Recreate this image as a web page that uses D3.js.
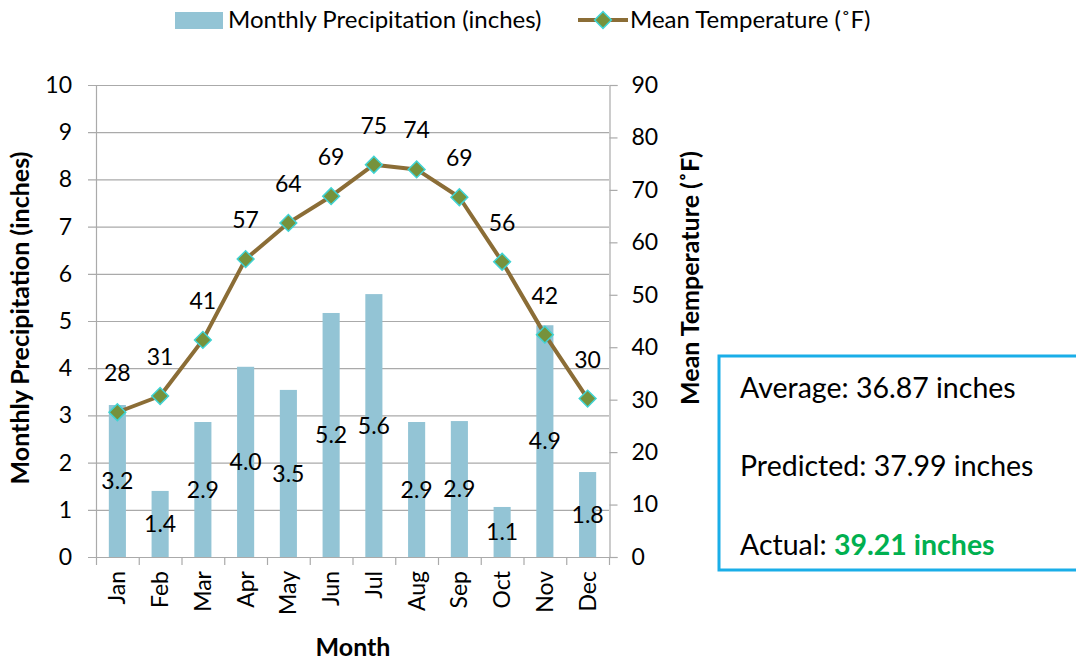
<!DOCTYPE html>
<html>
<head>
<meta charset="utf-8">
<script src="https://cdn.jsdelivr.net/npm/d3@7"></script>
<style>
  body { margin: 0; background: #fff; }
  text { font-family: Lato, "Noto Sans", sans-serif; fill: #000; }
</style>
</head>
<body>
<div id="chart"></div>
<script>
// data
var months = ["Jan", "Feb", "Mar", "Apr", "May", "Jun", "Jul", "Aug", "Sep", "Oct", "Nov", "Dec"];
var precip = [3.22, 1.4, 2.86, 4.03, 3.54, 5.17, 5.57, 2.86, 2.88, 1.06, 4.91, 1.8];
var temp = [27.6, 30.7, 41.4, 56.8, 63.7, 68.8, 74.8, 73.9, 68.6, 56.3, 42.4, 30.2];
var leftTicks = [0, 1, 2, 3, 4, 5, 6, 7, 8, 9, 10];
var rightTicks = [0, 10, 20, 30, 40, 50, 60, 70, 80, 90];
var notes = [
    { label: "Average: ", value: "36.87 inches", strong: false },
    { label: "Predicted: ", value: "37.99 inches", strong: false },
    { label: "Actual: ", value: "39.21 inches", strong: true }
];

var W = 1076, H = 663;
var margin = { top: 85, right: 467, bottom: 106, left: 96 };
var width = W - margin.left - margin.right,
    height = H - margin.top - margin.bottom;

var barColor = "#93c4d5",
    lineColor = "#8b6d36",
    gridColor = "#aaaaaa";
var fs = "23px", titleFs = "25px";

var svg = d3.select("#chart").append("svg")
    .attr("width", W)
    .attr("height", H);

var g = svg.append("g")
    .attr("transform", "translate(" + margin.left + "," + margin.top + ")");

var x = d3.scaleBand().domain(months).range([0, width]).paddingInner(0.6).paddingOuter(0.3);
var xOuter = d3.scaleBand().domain(months).range([0, width]);
var yL = d3.scaleLinear().domain([0, 10]).range([height, 0]);
var yR = d3.scaleLinear().domain([0, 90]).range([height, 0]);

// gridlines (left scale)
g.selectAll(".grid")
    .data(leftTicks)
    .enter().append("line")
    .attr("x1", -8)
    .attr("x2", width)
    .attr("y1", function (d) { return yL(d) + 0.5; })
    .attr("y2", function (d) { return yL(d) + 0.5; })
    .attr("stroke", gridColor)
    .attr("stroke-width", 1.2);

// left axis line
g.append("line")
    .attr("x1", 0.5).attr("x2", 0.5)
    .attr("y1", 0).attr("y2", height)
    .attr("stroke", gridColor).attr("stroke-width", 1.2);

// right axis
var rightAxis = d3.axisRight(yR).tickValues(rightTicks).tickSize(8).tickPadding(14);
g.append("g")
    .attr("transform", "translate(" + (width + 0.5) + ",0)")
    .call(rightAxis)
    .call(function (a) {
        a.select(".domain").attr("stroke", gridColor).attr("stroke-width", 1.2);
        a.selectAll(".tick line").attr("stroke", gridColor).attr("stroke-width", 1.2);
        a.selectAll("text").style("font-size", fs).attr("fill", "#000")
            .style("font-family", "Lato, 'Noto Sans', sans-serif");
    });

// left tick labels
g.selectAll(".ltick")
    .data(leftTicks)
    .enter().append("text")
    .attr("x", -24)
    .attr("y", function (d) { return yL(d); })
    .attr("dy", "0.35em")
    .attr("text-anchor", "end")
    .style("font-size", fs)
    .text(function (d) { return d; });

// bottom axis with ticks between categories
var bottom = g.append("g").attr("transform", "translate(0," + height + ")");
bottom.selectAll(".xt")
    .data(months.concat(["end"]))
    .enter().append("line")
    .attr("x1", function (d, i) { return i * xOuter.step() + 0.5; })
    .attr("x2", function (d, i) { return i * xOuter.step() + 0.5; })
    .attr("y1", 0).attr("y2", 8)
    .attr("stroke", gridColor).attr("stroke-width", 1.2);

bottom.selectAll(".xl")
    .data(months)
    .enter().append("text")
    .attr("transform", function (d) {
        return "translate(" + (xOuter(d) + xOuter.bandwidth() / 2) + ",14) rotate(-90)";
    })
    .attr("dy", "0.35em")
    .attr("text-anchor", "end")
    .style("font-size", fs)
    .text(function (d) { return d; });

// bars
g.selectAll(".bar")
    .data(precip)
    .enter().append("rect")
    .attr("x", function (d, i) { return x(months[i]); })
    .attr("y", function (d) { return yL(d); })
    .attr("width", x.bandwidth())
    .attr("height", function (d) { return height - yL(d); })
    .attr("fill", barColor);

// bar labels, centered in each bar
g.selectAll(".blabel")
    .data(precip)
    .enter().append("text")
    .attr("x", function (d, i) { return xOuter(months[i]) + xOuter.bandwidth() / 2; })
    .attr("y", function (d) { return yL(d / 2); })
    .attr("dy", "0.35em")
    .attr("text-anchor", "middle")
    .style("font-size", fs)
    .text(function (d) { return d3.format(".1f")(d); });

// temperature line
var line = d3.line()
    .x(function (d, i) { return xOuter(months[i]) + xOuter.bandwidth() / 2; })
    .y(function (d) { return yR(d); });

g.append("path")
    .datum(temp)
    .attr("d", line)
    .attr("fill", "none")
    .attr("stroke", lineColor)
    .attr("stroke-width", 4)
    .attr("stroke-linejoin", "round");

var diamond = d3.symbol().type(d3.symbolSquare).size(140);
g.selectAll(".marker")
    .data(temp)
    .enter().append("path")
    .attr("d", diamond)
    .attr("transform", function (d, i) {
        return "translate(" + (xOuter(months[i]) + xOuter.bandwidth() / 2) + "," + yR(d) + ") rotate(45)";
    })
    .attr("fill", "#76923c")
    .attr("stroke", "#3fd3d3")
    .attr("stroke-width", 1.5);

g.selectAll(".tlabel")
    .data(temp)
    .enter().append("text")
    .attr("x", function (d, i) { return xOuter(months[i]) + xOuter.bandwidth() / 2; })
    .attr("y", function (d) { return yR(d) - 39; })
    .attr("dy", "0.35em")
    .attr("text-anchor", "middle")
    .style("font-size", fs)
    .text(function (d) { return Math.round(d); });

// axis titles
svg.append("text")
    .attr("transform", "translate(20," + 318 + ") rotate(-90)")
    .attr("dy", "0.35em")
    .attr("text-anchor", "middle")
    .style("font-size", titleFs)
    .style("font-weight", "bold")
    .text("Monthly Precipitation (inches)");

svg.append("text")
    .attr("transform", "translate(690," + 278 + ") rotate(-90)")
    .attr("dy", "0.35em")
    .attr("text-anchor", "middle")
    .style("font-size", titleFs)
    .style("font-weight", "bold")
    .text("Mean Temperature (˚F)");

svg.append("text")
    .attr("x", 353)
    .attr("y", 647)
    .attr("dy", "0.35em")
    .attr("text-anchor", "middle")
    .style("font-size", titleFs)
    .style("font-weight", "bold")
    .text("Month");

// legend
var legend = svg.append("g");
legend.append("rect")
    .attr("x", 175).attr("y", 12)
    .attr("width", 48).attr("height", 17)
    .attr("fill", barColor);
legend.append("text")
    .attr("x", 228).attr("y", 20)
    .attr("dy", "0.35em")
    .style("font-size", "24px")
    .text("Monthly Precipitation (inches)");
legend.append("line")
    .attr("x1", 578).attr("x2", 628)
    .attr("y1", 20).attr("y2", 20)
    .attr("stroke", lineColor).attr("stroke-width", 4);
legend.append("path")
    .attr("d", diamond)
    .attr("transform", "translate(603,20) rotate(45)")
    .attr("fill", "#76923c")
    .attr("stroke", "#3fd3d3")
    .attr("stroke-width", 1.5);
legend.append("text")
    .attr("x", 630).attr("y", 20)
    .attr("dy", "0.35em")
    .style("font-size", "24px")
    .text("Mean Temperature (˚F)");

// notes box
svg.append("rect")
    .attr("x", 719).attr("y", 356)
    .attr("width", 380).attr("height", 214)
    .attr("fill", "#fff")
    .attr("stroke", "#1aaee8")
    .attr("stroke-width", 3);

var noteRows = svg.selectAll(".note")
    .data(notes)
    .enter().append("text")
    .attr("x", 740)
    .attr("y", function (d, i) { return 388 + i * 78.5; })
    .attr("dy", "0.35em")
    .style("font-size", "28.5px");
noteRows.append("tspan").text(function (d) { return d.label; });
noteRows.append("tspan")
    .style("font-weight", function (d) { return d.strong ? "bold" : "normal"; })
    .style("fill", function (d) { return d.strong ? "#00b050" : "#000"; })
    .text(function (d) { return d.value; });
</script>
</body>
</html>
